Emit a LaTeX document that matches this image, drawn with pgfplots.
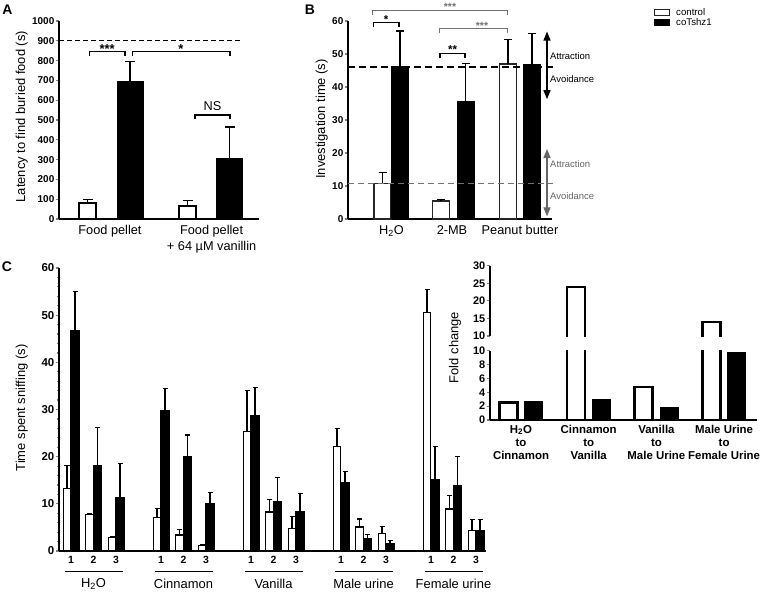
\documentclass[border=0pt]{standalone}
\usepackage{pgfplots}
\pgfplotsset{compat=1.18}
\usepackage{fontspec}
\setmainfont{Liberation Sans}
\usetikzlibrary{arrows.meta}
\newcommand{\fs}[1]{\fontsize{#1}{#1}\selectfont}

\pgfplotsset{
  panel/.style={
    scale only axis,
    anchor=north west,
    axis x line*=bottom,
    axis y line*=left,
    axis line style={line width=1.6bp, black},
    tick align=outside,
    major tick length=3.5bp,
    minor tick length=2.5bp,
    every tick/.append style={line width=1.2bp},
    every x tick/.style={draw=none},
    /pgf/number format/assume math mode=true,
    /pgf/number format/set thousands separator={},
    y tick label style={font=\bfseries\fs{10}, inner xsep=1bp},
    x tick label style={font=\fs{12.8}, align=center, inner ysep=2.5bp},
    clip=false,
  },
  sqlegend/.style={legend image code/.code={\draw[##1, line width=1.2bp] (0bp,-3bp) rectangle (15bp,3bp);}},
  ctrl/.style={ybar, bar shift=0pt, fill=white, draw=black, line width=1.6bp, sqlegend},
  mut/.style={ybar, bar shift=0pt, fill=black, draw=black, line width=1bp, sqlegend},
  eb/.style={/pgfplots/error bars/y dir=plus, /pgfplots/error bars/y explicit,
     /pgfplots/error bars/error bar style={line width=1.2bp, black, solid},
     /pgfplots/error bars/error mark options={rotate=90, line width=1.2bp, black, mark size=#1, solid}},
}

\begin{document}
\begin{tikzpicture}
\useasboundingbox (0bp,0bp) rectangle (764bp,-595bp);

% panel letters
\node[font=\bfseries\fs{14}] at (7.5bp,-9.5bp) {A};
\node[font=\bfseries\fs{14}] at (310bp,-9.5bp) {B};
\node[font=\bfseries\fs{14}] at (7bp,-266.5bp) {C};

% y labels
\node[rotate=90, font=\fs{13}] at (21.7bp,-116.7bp) {Latency to find buried food (s)};
\node[rotate=90, font=\fs{13}] at (321.7bp,-119bp) {Investigation time (s)};
\node[rotate=90, font=\fs{13}] at (21.7bp,-408bp) {Time spent sniffing (s)};
\node[rotate=90, font=\fs{13}] at (455bp,-347.5bp) {Fold change};

% ---------------- Panel A ----------------
\begin{axis}[panel, at={(59bp,-21bp)}, width=200bp, height=198bp,
  xmin=0, xmax=10, ymin=0, ymax=1000, ytick={0,100,...,1000},
  xtick={2.55,7.63}, xticklabels={Food pellet,{Food pellet\\+ 64 µM vanillin}},
  x tick label style={font=\fontsize{12.8}{16.5}\selectfont}]
\addplot[ctrl, bar width=0.85, eb=5bp] coordinates {(1.425,80) +- (0,20) (6.425,65) +- (0,28)};
\addplot[mut, bar width=1.3, eb=5bp] coordinates {(3.55,695) +- (0,100) (8.525,305) +- (0,160)};
\addplot[forget plot, black, line width=1.2bp, dash pattern=on 5bp off 3bp] coordinates {(0,900) (9.2,900)};
\draw[line width=1.5bp] (axis cs:1.52,822) |- (axis cs:3.3,845) -- (axis cs:3.3,822);
\draw[line width=1.5bp] (axis cs:3.68,822) |- (axis cs:8.55,845) -- (axis cs:8.55,822);
\draw[line width=1.5bp] (axis cs:6.8,503) |- (axis cs:8.55,525) -- (axis cs:8.55,503);
\node[font=\bfseries\fs{13}, anchor=base] at (axis cs:2.41,838) {***};
\node[font=\bfseries\fs{13}, anchor=base] at (axis cs:6.1,838) {*};
\node[font=\fs{12.8}, anchor=base] at (axis cs:7.67,547) {NS};
\end{axis}

% ---------------- Panel B ----------------
\begin{axis}[panel, at={(348bp,-21bp)}, width=204bp, height=198bp,
  xmin=0, xmax=204, ymin=0, ymax=60, ytick={0,10,...,60},
  xtick={43.5,104,172}, xticklabels={H\textsubscript{2}O,2-MB,Peanut butter},
  legend style={at={(1.5,1.065)}, anchor=north west, draw=none, fill=none,
    font=\fs{9.7}, row sep=1.2bp, inner sep=0pt,
    nodes={inner sep=0.8bp, text height=6.7bp, text depth=0.5bp},
    /tikz/every odd column/.append style={column sep=5bp}},
  legend cell align=left]
\addplot[ctrl, draw=black!85, bar width=17, eb=4bp] coordinates {(34.5,10.8) +- (0,3.2) (93,5.5) +- (0,0.5) (160,46.9) +- (0,7.6)};
\addplot[mut, bar width=17, eb=4bp] coordinates {(52,46.2) +- (0,10.8) (117.5,35.6) +- (0,11.4) (184,46.9) +- (0,9.2)};
\legend{control,coTshz1}
\addplot[forget plot, black, line width=2bp, dash pattern=on 7bp off 4bp] coordinates {(0,46.2) (205,46.2)};
\addplot[forget plot, black!55, line width=1.5bp, dash pattern=on 6bp off 4bp] coordinates {(0,10.7) (205,10.7)};
% brackets
\draw[line width=1.5bp] (axis cs:25.3,58.1) |- (axis cs:51,59.5) -- (axis cs:51,58.1);
\node[font=\bfseries\fs{11.5}, anchor=base] at (axis cs:38,59.3) {*};
\draw[line width=1.5bp] (axis cs:92,48.7) |- (axis cs:117,50.2) -- (axis cs:117,48.7);
\node[font=\bfseries\fs{11.5}, anchor=base] at (axis cs:104.5,50) {**};
\draw[line width=1bp, black!55] (axis cs:24.7,61.8) |- (axis cs:159.3,63.3) -- (axis cs:159.3,61.8);
\node[font=\bfseries\fs{10.5}, anchor=base, black!55] at (axis cs:102,63.1) {***};
\draw[line width=1bp, black!55] (axis cs:91,56.3) |- (axis cs:159.3,57.6) -- (axis cs:159.3,56.3);
\node[font=\bfseries\fs{10.5}, anchor=base, black!55] at (axis cs:134,57.4) {***};
% attraction / avoidance arrows
\draw[line width=1.3bp, {Triangle[width=7bp,length=9bp]}-{Triangle[width=7bp,length=9bp]}] (axis cs:199,36.3) -- (axis cs:199,56.8);
\draw[line width=1.3bp, black!60, {Triangle[width=7bp,length=9bp]}-{Triangle[width=7bp,length=9bp]}] (axis cs:199,0.8) -- (axis cs:199,21.2);
\node[font=\fs{9.5}, anchor=west, inner sep=0pt] at (axis cs:202,49.3) {Attraction};
\node[font=\fs{9.5}, anchor=west, inner sep=0pt] at (axis cs:202,42.5) {Avoidance};
\node[font=\fs{9.5}, anchor=west, inner sep=0pt, black!60] at (axis cs:202,16.6) {Attraction};
\node[font=\fs{9.5}, anchor=west, inner sep=0pt, black!60] at (axis cs:202,6.8) {Avoidance};
\end{axis}

% ---------------- Panel C main ----------------
\begin{axis}[panel, at={(59bp,-268bp)}, width=427bp, height=283bp,
  xmin=0, xmax=427, ymin=0, ymax=60, ytick={0,10,...,60}, minor y tick num=4,
  axis line style={line width=2bp},
  y tick label style={font=\bfseries\fs{11.5}},
  xtick={12,34.5,57,102,124.5,147,192,214.5,237,282,304.5,327,372,394.5,417},
  xticklabels={1,2,3,1,2,3,1,2,3,1,2,3,1,2,3},
  x tick label style={font=\bfseries\fs{10.5}, inner ysep=1.5bp}]
\addplot[ctrl, bar width=7.5, line width=1.3bp, eb=2.5bp] coordinates {
 (8,13.2) +- (0,5.0)  (30.5,7.7) +- (0,0.3)  (53,2.8) +- (0,0.2)
 (98,7.1) +- (0,1.9)  (120.5,3.4) +- (0,1.1) (143,1.1) +- (0,0.3)
 (188,25.3) +- (0,8.7) (210.5,8.3) +- (0,2.7) (233,4.7) +- (0,2.6)
 (278,22.1) +- (0,3.9) (300.5,5.1) +- (0,1.7) (323,3.7) +- (0,1.5)
 (368,50.5) +- (0,5.0) (390.5,8.9) +- (0,2.9) (413,4.4) +- (0,2.2)};
\addplot[mut, bar width=8.5, eb=2.5bp] coordinates {
 (16,46.7) +- (0,8.3)  (38.5,18.2) +- (0,8.0) (61,11.3) +- (0,7.2)
 (106,29.8) +- (0,4.7) (128.5,20.0) +- (0,4.6) (151,10.0) +- (0,2.4)
 (196,28.8) +- (0,5.8) (218.5,10.4) +- (0,5.2) (241,8.3) +- (0,3.9)
 (286,14.6) +- (0,2.2) (308.5,2.6) +- (0,0.9) (331,1.6) +- (0,0.6)
 (376,15.2) +- (0,6.9) (398.5,13.9) +- (0,6.2) (421,4.4) +- (0,2.2)};
\end{axis}

% group underlines and names
\foreach \a/\n in {93.5/H\textsubscript{2}O,183.5/Cinnamon,273.5/Vanilla,363.5/Male urine,453.5/Female urine}{
  \draw[line width=1.2bp] (\a bp-28.5bp,-571.7bp) -- (\a bp+29bp,-571.7bp);
  \node[font=\fs{13}] at (\a bp,-584bp) {\n};
}

% ---------------- Panel C inset (broken axis) ----------------
\begin{axis}[panel, clip=true, at={(490bp,-350.7bp)}, width=267bp, height=69.3bp,
  xmin=0, xmax=267, ymin=0, ymax=10, ytick={0,2,...,10},
  axis line style={line width=2.5bp},
  y tick label style={font=\bfseries\fs{11}},
  xtick={31,98.7,166.4,234.1},
  xticklabels={{H\textsubscript{2}O\\to\\Cinnamon},{Cinnamon\\to\\Vanilla},{Vanilla\\to\\Male Urine},{Male Urine\\to\\Female Urine}},
  x tick label style={font=\bfseries\fontsize{11.5}{13}\selectfont, inner ysep=1.5bp}]
\addplot[ctrl, bar width=18, line width=2.5bp] coordinates {(18.3,2.55) (86,24) (153.7,4.75) (221.4,14)};
\addplot[mut, bar width=18] coordinates {(43.7,2.7) (111.4,3.0) (179.1,1.85) (246.8,9.8)};
\end{axis}
\begin{axis}[panel, clip=true, at={(490bp,-265.7bp)}, width=267bp, height=70.3bp,
  xmin=0, xmax=267, ymin=10, ymax=30, ytick={10,15,...,30},
  axis x line=none,
  axis line style={line width=2.5bp},
  y tick label style={font=\bfseries\fs{11}}]
% upper parts of the two control bars above the axis break (values 24 and 14)
\addplot[forget plot, black, line width=2.5bp, sharp plot, mark=none] coordinates {(77,9) (77,24) (95,24) (95,9)};
\addplot[forget plot, black, line width=2.5bp, sharp plot, mark=none] coordinates {(212.4,9) (212.4,14) (230.4,14) (230.4,9)};
\end{axis}
\end{tikzpicture}
\end{document}
